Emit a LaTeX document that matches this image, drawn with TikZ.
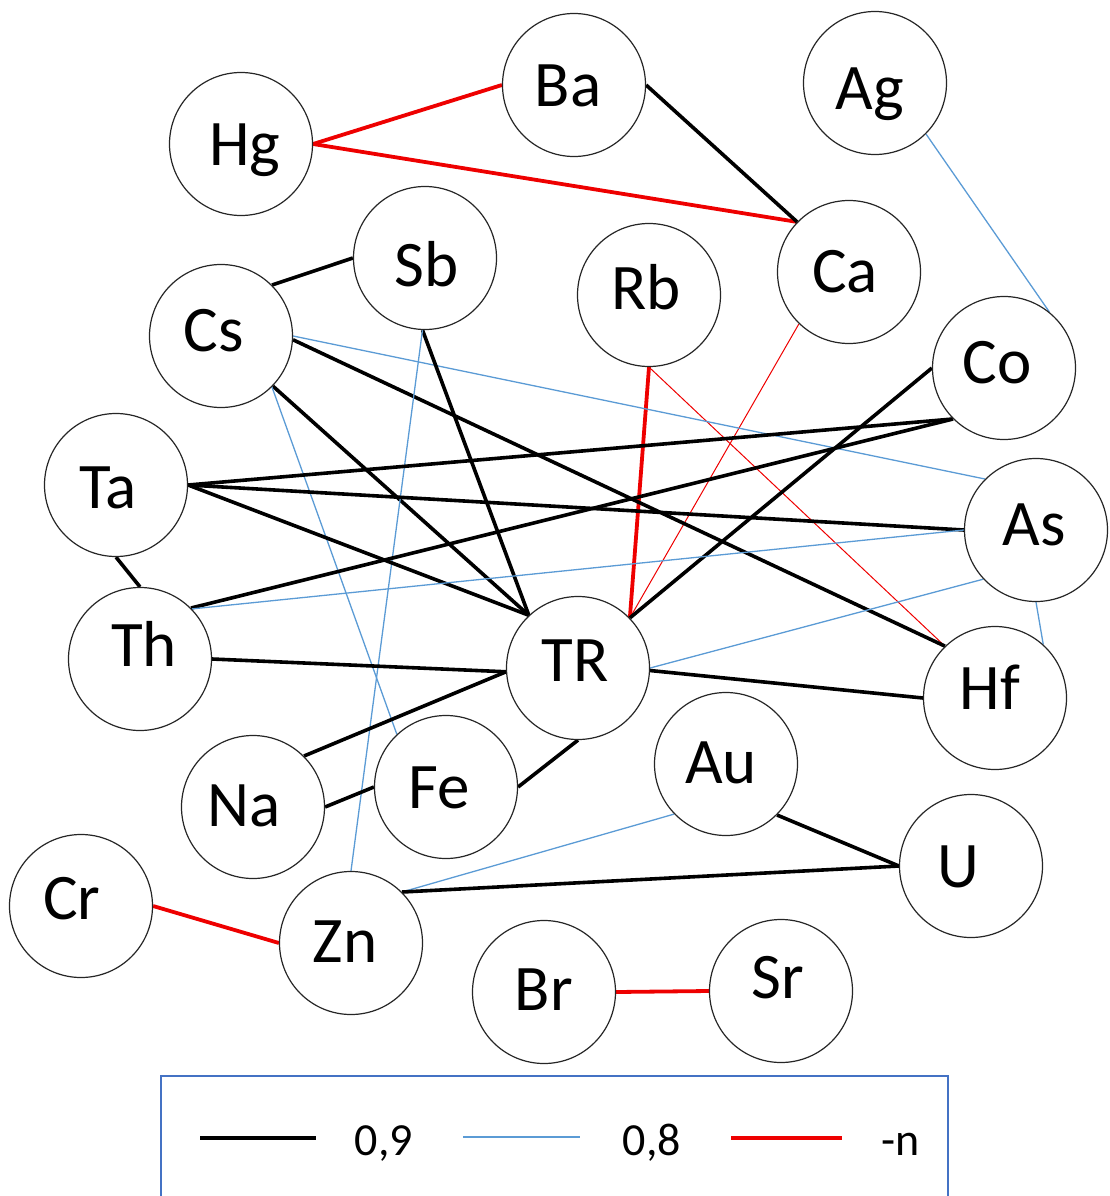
\documentclass[tikz,border=0pt]{standalone}
\usepackage{fontspec}
\setmainfont{Carlito}
\usetikzlibrary{backgrounds}
\definecolor{linkred}{RGB}{238,0,0}
\definecolor{linkblue}{RGB}{91,155,213}
\definecolor{boxblue}{RGB}{68,114,196}
\begin{document}
\begin{tikzpicture}[x=1pt,y=-1pt,
  elem/.style={circle,draw=black!85,line width=1.2pt,fill=white,minimum size=143pt,inner sep=0pt},
  lbl/.style={anchor=base,font=\fontsize{65}{70}\selectfont,inner sep=0pt},
  strong/.style={line width=3.6pt,black},
  weak/.style={line width=1.3pt,linkblue},
  negstrong/.style={line width=3.8pt,linkred},
  negweak/.style={line width=1pt,linkred},
  legtxt/.style={anchor=base,font=\fontsize{46}{50}\selectfont,inner sep=0pt}]
\useasboundingbox (0,0) rectangle (1109,1196);
% circles
\node[elem] (Hg) at (241,144) {};
\node[elem] (Ba) at (574,85) {};
\node[elem] (Ag) at (875,83) {};
\node[elem] (Sb) at (425,258) {};
\node[elem] (Rb) at (649,295) {};
\node[elem] (Ca) at (849,272) {};
\node[elem] (Cs) at (221,336) {};
\node[elem] (Co) at (1004,368) {};
\node[elem] (Ta) at (116,485) {};
\node[elem] (As) at (1036,530) {};
\node[elem] (Th) at (140,659) {};
\node[elem] (TR) at (578,668) {};
\node[elem] (Hf) at (995,698) {};
\node[elem] (Au) at (726,764) {};
\node[elem] (Na) at (253,807) {};
\node[elem] (Fe) at (446,787) {};
\node[elem] (U) at (971,866) {};
\node[elem] (Cr) at (81,906) {};
\node[elem] (Zn) at (351,943) {};
\node[elem] (Br) at (544,992) {};
\node[elem] (Sr) at (781,991) {};
% labels
\node[lbl] (tHg) at (245,165) {Hg};
\node[lbl] (tBa) at (568,107) {Ba};
\node[lbl] (tAg) at (870,110) {Ag};
\node[lbl] (tSb) at (427,286) {Sb};
\node[lbl] (tRb) at (646,309) {Rb};
\node[lbl] (tCa) at (845,292) {Ca};
\node[lbl] (tCs) at (214,351) {Cs};
\node[lbl] (tCo) at (997,383) {Co};
\node[lbl] (tTa) at (108,508) {Ta};
\node[lbl] (tAs) at (1034,545) {As};
\node[lbl] (tTh) at (144,666) {Th};
\node[lbl] (tTR) at (575,681) {TR};
\node[lbl] (tHf) at (990,709) {Hf};
\node[lbl] (tAu) at (721,783) {Au};
\node[lbl] (tNa) at (244,826) {Na};
\node[lbl] (tFe) at (439,808) {Fe};
\node[lbl] (tU) at (958,887) {U};
\node[lbl] (tCr) at (72,919) {Cr};
\node[lbl] (tZn) at (345,962) {Zn};
\node[lbl] (tBr) at (544,1010) {Br};
\node[lbl] (tSr) at (778,998) {Sr};
% connectors
\begin{scope}[on background layer]
\draw[negstrong] (Hg.east) -- (Ba.west);
\draw[negstrong] (Hg.east) -- (Ca.136);
\draw[strong] (Ba.east) -- (Ca.136);
\draw[weak] (Ag.-45) -- (Co.51);
\draw[strong] (Cs.45) -- (Sb.west);
\draw[negweak] (Ca.226) -- (TR.44);
\draw[negstrong] (Rb.south) -- (TR.44);
\draw[negweak] (Rb.south) -- (Hf.134);
\draw[strong] (Co.west) -- (TR.44);
\draw[weak] (Cs.east) -- (As.135);
\draw[strong] (Cs.-44) -- (TR.133);
\draw[strong] (Cs.-3) -- (Hf.134);
\draw[weak] (Cs.-45) -- (Fe.133);
\draw[strong] (Sb.268) -- (TR.133);
\draw[weak] (Sb.268) -- (Zn.north);
\draw[strong] (Ta.east) -- (Co.225);
\draw[strong] (Ta.east) -- (TR.133);
\draw[strong] (Ta.east) -- (As.west);
\draw[strong] (Ta.south) -- (Th.north);
\draw[strong] (Th.45) -- (Co.225);
\draw[weak] (Th.44) -- (As.west);
\draw[strong] (Th.east) -- (TR.183);
\draw[strong] (Na.45) -- (TR.183);
\draw[strong] (Na.east) -- (Fe.west);
\draw[strong] (Fe.east) -- (TR.south);
\draw[weak] (TR.east) -- (As.223);
\draw[strong] (TR.-2) -- (Hf.west);
\draw[weak] (As.south) -- (Hf.48);
\draw[weak] (Au.224) -- (Zn.45);
\draw[strong] (Au.-45) -- (U.west);
\draw[strong] (Zn.45) -- (U.west);
\draw[negstrong] (Cr.east) -- (Zn.west);
\draw[negstrong] (Br.east) -- (Sr.west);
\end{scope}
% legend
\draw[boxblue,line width=1.3pt] (161,1200) -- (161,1076) -- (948,1076) -- (948,1200);
\coordinate (k1a) at (200,1138);
\coordinate (k1b) at (316,1138);
\coordinate (k2a) at (463,1137);
\coordinate (k2b) at (580,1137);
\coordinate (k3a) at (731,1138);
\coordinate (k3b) at (842,1138);
\draw[strong] (k1a) -- (k1b);
\draw[weak] (k2a) -- (k2b);
\draw[negstrong,line width=4.5pt] (k3a) -- (k3b);
\node[legtxt] (l1) at (384,1155) {0,9};
\node[legtxt] (l2) at (652,1155) {0,8};
\node[legtxt] (l3) at (901,1155) {-n};
\end{tikzpicture}
\end{document}
